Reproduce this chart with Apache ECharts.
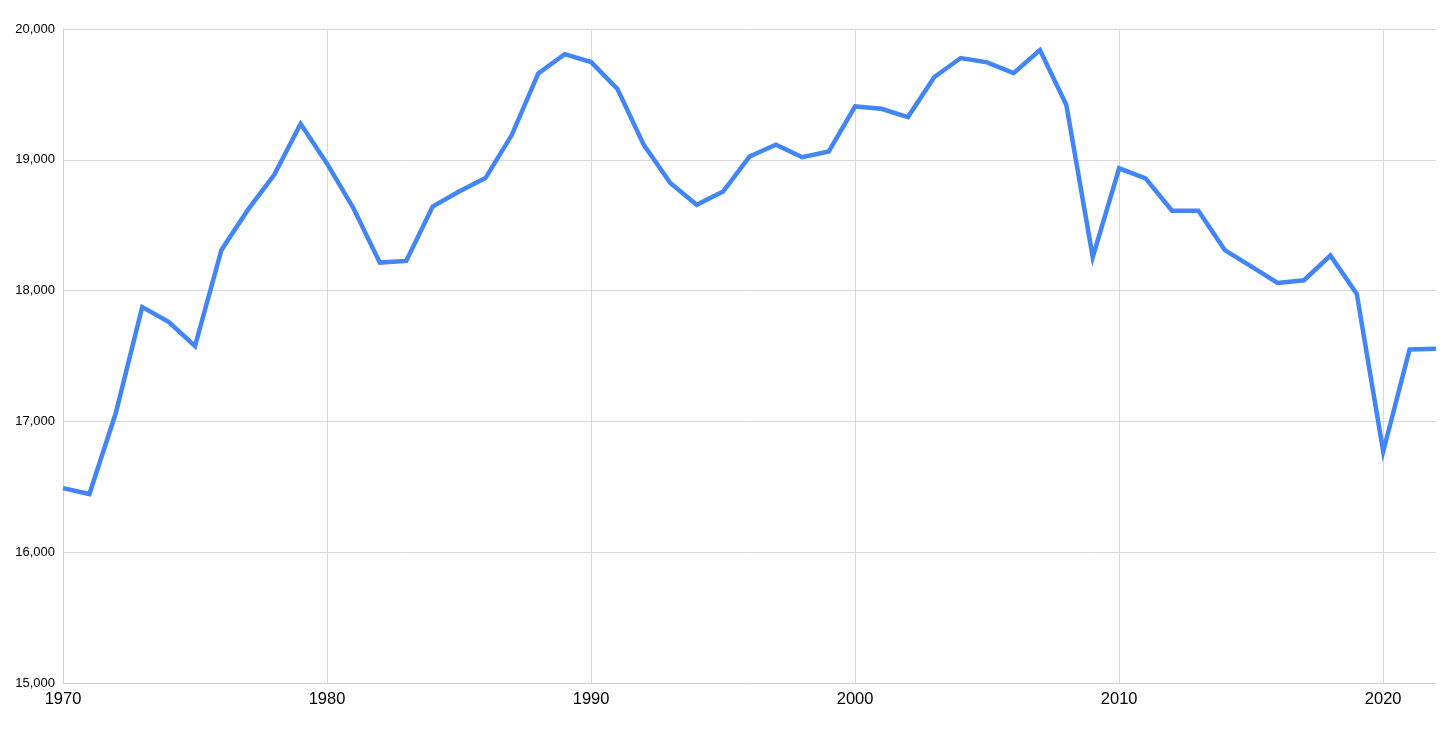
<!DOCTYPE html>
<html>
<head>
<meta charset="utf-8">
<script src="https://cdn.jsdelivr.net/npm/echarts@6/dist/echarts.min.js"></script>
<style>
html,body{margin:0;padding:0;background:#fff;}
#chart{width:1456px;height:729px;}
</style>
</head>
<body>
<div id="chart"></div>
<script>
const years = [1970,1971,1972,1973,1974,1975,1976,1977,1978,1979,
  1980,1981,1982,1983,1984,1985,1986,1987,1988,1989,
  1990,1991,1992,1993,1994,1995,1996,1997,1998,1999,
  2000,2001,2002,2003,2004,2005,2006,2007,2008,2009,
  2010,2011,2012,2013,2014,2015,2016,2017,2018,2019,
  2020,2021,2022];
const values = [16490,16445,17064,17874,17762,17576,18311,18617,18885,19275,
  18970,18630,18214,18227,18643,18757,18860,19191,19660,19808,
  19747,19541,19112,18822,18656,18757,19025,19115,19020,19064,
  19408,19390,19327,19633,19778,19745,19663,19839,19419,18255,
  18935,18858,18611,18611,18310,18185,18059,18079,18268,17975,
  16770,17550,17555];
const yTicks = {min:15000, max:20000, interval:1000};
const xTicks = {min:1970, max:2022, interval:10};

const chart = echarts.init(document.getElementById('chart'));
chart.setOption({
  animation:false,
  grid:{left:63, right:20, top:29, bottom:46, containLabel:false},
  xAxis:{
    type:'value', min:xTicks.min, max:xTicks.max, interval:xTicks.interval,
    axisLine:{show:true, lineStyle:{color:'#d0d0d0', width:1}},
    axisTick:{show:false},
    splitLine:{show:true, showMaxLine:false, lineStyle:{color:'#d9d9d9', width:1}},
    axisLabel:{color:'#000', fontSize:16.5, fontFamily:'Liberation Sans, Arial, sans-serif', margin:8,
      formatter:v=>String(v), showMaxLabel:false}
  },
  yAxis:{
    type:'value', min:yTicks.min, max:yTicks.max, interval:yTicks.interval,
    axisLine:{show:true, lineStyle:{color:'#d0d0d0', width:1}},
    axisTick:{show:false},
    splitLine:{show:true, lineStyle:{color:'#d9d9d9', width:1}},
    axisLabel:{color:'#000', fontSize:13, fontFamily:'Liberation Sans, Arial, sans-serif', margin:8,
      formatter:v=>v.toLocaleString('en-US')}
  },
  series:[{
    type:'line',
    data:years.map((y,i)=>[y,values[i]]),
    showSymbol:false,
    symbol:'none',
    lineStyle:{color:'#4285f4', width:4.5, join:'miter'},
    clip:false
  }]
});
</script>
</body>
</html>
